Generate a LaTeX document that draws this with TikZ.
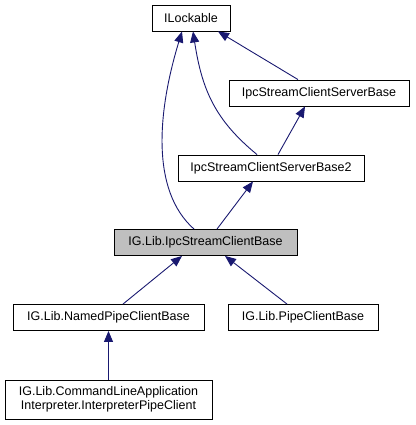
\documentclass[tikz,border=0pt]{standalone}
\usepackage{fontspec}
\setmainfont{Liberation Sans}
\usetikzlibrary{calc,arrows.meta}
\definecolor{edgeblue}{RGB}{25,25,112}
\definecolor{selgray}{RGB}{191,191,191}

\begin{document}
\begin{tikzpicture}[x=1pt,y=-1pt,
  cls/.style={draw=black, line width=0.9pt, inner sep=0pt, minimum height=26pt,
    font=\fontsize{12.5}{14.5}\selectfont, align=center},
  inh/.style={edgeblue, line width=0.9pt, {Triangle[length=11pt,width=9pt]}-}]

% Keep the page size of the reference
\useasboundingbox (0,0) rectangle (415,425);

% Class boxes
\node[cls, minimum width=78pt] (ilock) at (191,18) {ILockable};
\node[cls, minimum width=180pt] (serverbase) at (319,93) {IpcStreamClientServerBase};
\node[cls, minimum width=186pt] (serverbase2) at (271,168) {IpcStreamClientServerBase2};
\node[cls, minimum width=183pt, fill=selgray] (clientbase) at (205.5,242.5) {IG.Lib.IpcStreamClientBase};
\node[cls, minimum width=191pt] (namedpipe) at (108.5,317.5) {IG.Lib.NamedPipeClientBase};
\node[cls, minimum width=150pt] (pipe) at (303,317.5) {IG.Lib.PipeClientBase};
\node[cls, minimum width=207pt, minimum height=39pt] (interp) at (108.5,399.5)
  {IG.Lib.CommandLineApplication\\Interpreter.InterpreterPipeClient};

% Inheritance from ILockable
\draw[inh] ($(ilock.south)+(-9,0)$) .. controls (158,110) and (150,190) .. ($(clientbase.north)+(-11.5,0)$);
\draw[inh] ($(ilock.south)+(2,0)$) .. controls (202,90) and (215,120) .. ($(serverbase2.north)+(-14,0)$);
\draw[inh] ($(ilock.south)+(27,0)$) -- ($(serverbase.north)+(-21,0)$);

% Inheritance down the chain
\draw[inh] ($(serverbase.south)+(-14,0)$) -- ($(serverbase2.north)+(7,0)$);
\draw[inh] ($(serverbase2.south)+(-18,0)$) -- ($(clientbase.north)+(11.5,0)$);
\draw[inh] ($(clientbase.south)+(-23.5,0)$) -- ($(namedpipe.north)+(14.5,0)$);
\draw[inh] ($(clientbase.south)+(19.5,0)$) -- ($(pipe.north)+(-16,0)$);
\draw[inh] (namedpipe.south) -- (interp.north);

\end{tikzpicture}
\end{document}
